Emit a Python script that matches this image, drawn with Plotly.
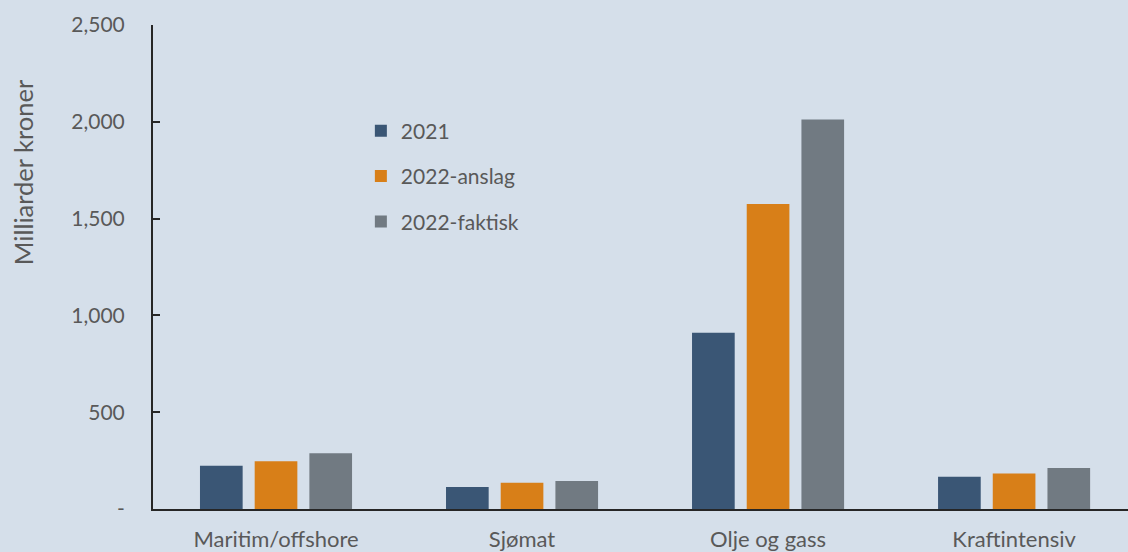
import plotly.graph_objects as go

categories = ["Maritim/offshore", "Sjømat", "Olje og gass", "Kraftintensiv"]
series_names = ["2021", "2022-anslag", "2022-faktisk"]
values_2021 = [224, 114, 911, 167]
values_2022_anslag = [246, 135, 1575, 184]
values_2022_faktisk = [288, 145, 2012, 212]
y_tickvals = [0, 500, 1000, 1500, 2000, 2500]
y_ticktext = ["-", "500", "1,000", "1,500", "2,000", "2,500"]
y_title = "Milliarder kroner"

colors = ["#3a5675", "#d87f18", "#717a82"]
text_color = "#595959"
bg = "#d5dfea"
font_family = "Lato, 'Open Sans', sans-serif"

fig = go.Figure()
for name, vals, col in zip(series_names, [values_2021, values_2022_anslag, values_2022_faktisk], colors):
    fig.add_trace(go.Bar(
        x=categories, y=vals, name=name, marker_color=col,
        marker_line_width=0, legendgroup=name,
    ))

fig.add_annotation(
    text=y_title, xref="paper", yref="paper", x=-0.1333, y=0.696,
    xanchor="center", yanchor="middle", textangle=-90, showarrow=False,
    font=dict(size=25.5, color=text_color, family=font_family),
)

fig.update_layout(
    width=1128, height=552,
    paper_bgcolor=bg, plot_bgcolor=bg,
    margin=dict(l=153, r=0, t=25, b=43),
    barmode="group", bargap=0.333, bargroupgap=0.22,
    font=dict(family=font_family, size=21, color=text_color),
    showlegend=True,
    legend=dict(
        x=0.2132, y=0.823, xanchor="left", yanchor="top",
        bgcolor="rgba(0,0,0,0)", tracegroupgap=15,
        font=dict(size=21, color=text_color),
    ),
    xaxis=dict(
        range=[-0.5, 3.463], showgrid=False, showline=True,
        linecolor="#262626", linewidth=2, ticks="", zeroline=False,
        tickfont=dict(size=22, color=text_color), ticklabelstandoff=10,
    ),
    yaxis=dict(
        range=[0, 2500], tickvals=y_tickvals, ticktext=y_ticktext,
        showgrid=False, showline=True, linecolor="#262626", linewidth=2,
        ticks="inside", ticklen=7, tickwidth=2, tickcolor="#262626",
        zeroline=False, tickfont=dict(size=21, color=text_color),
        ticklabelstandoff=22,
    ),
)

fig.write_html("out.html", config={"displayModeBar": False},
               post_script="document.body.style.margin='0';")
